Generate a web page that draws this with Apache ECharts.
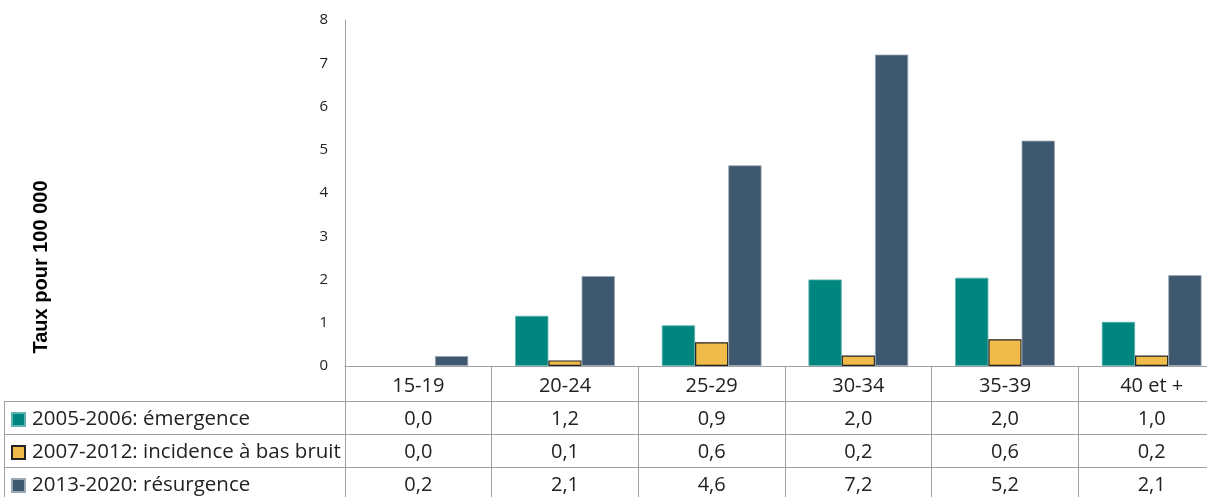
<!DOCTYPE html>
<html>
<head>
<meta charset="utf-8">
<style>
html,body{margin:0;padding:0;background:#fff;overflow:hidden;width:1207px;height:497px;}
#chart{width:1225px;height:497px;}
</style>
<script src="https://cdn.jsdelivr.net/npm/echarts@6/dist/echarts.min.js"></script>
</head>
<body>
<div id="chart"></div>
<script>
const categories = ['15-19', '20-24', '25-29', '30-34', '35-39', '40 et +'];
const seriesNames = ['2005-2006: émergence', '2007-2012: incidence à bas bruit', '2013-2020: résurgence'];
const emergence = [0, 1.16, 0.94, 2.0, 2.04, 1.02];
const basBruit = [0, 0.13, 0.55, 0.24, 0.62, 0.24];
const resurgence = [0.23, 2.08, 4.64, 7.2, 5.21, 2.1];
const yTicks = [0, 1, 2, 3, 4, 5, 6, 7, 8];
const yTitle = 'Taux pour 100 000';

const fmt = v => (Math.round(v * 10) / 10).toFixed(1).replace('.', ',');
const colors = ['#00857f', '#f0bb48', '#3e586f'];
const borders = ['#5fb3ae', '#222222', '#9aa8b5'];
const lineColor = '#a0a0a0';
const textColor = '#222';
const FONT = 'Open Sans';

const chart = echarts.init(document.getElementById('chart'));

const seriesData = [emergence, basBruit, resurgence];

const tableAxes = seriesData.map((arr, i) => ({
  type: 'category',
  gridIndex: 0,
  position: 'bottom',
  offset: 35 + 33 * i,
  data: arr.map(fmt),
  boundaryGap: true,
  axisLine: { show: true, lineStyle: { color: lineColor, width: 1 } },
  axisTick: { show: false },
  splitLine: { show: false },
  axisLabel: {
    show: true, interval: 0, margin: 18.5, verticalAlign: 'middle',
    fontFamily: FONT, fontSize: 20, color: textColor
  }
}));

const option = {
  animation: false,
  backgroundColor: '#fff',
  grid: { left: 345, top: 20, right: 0, height: 346, containLabel: false },
  legend: {
    orient: 'vertical',
    left: 11, top: 409, height: 150,
    padding: 0,
    itemWidth: 13, itemHeight: 13,
    itemGap: 12,
    icon: 'rect',
    data: seriesNames,
    selectedMode: false,
    textStyle: { fontFamily: FONT, fontSize: 20.5, color: textColor, padding: [0, 0, 0, 2] }
  },
  xAxis: [{
    type: 'category',
    data: categories,
    position: 'bottom',
    boundaryGap: true,
    axisLine: { show: true, lineStyle: { color: lineColor, width: 1 } },
    axisTick: { show: true, alignWithLabel: false, inside: false, length: 131, lineStyle: { color: lineColor, width: 1 } },
    splitLine: { show: false },
    axisLabel: {
      show: true, interval: 0, margin: 20, verticalAlign: 'middle',
      fontFamily: FONT, fontSize: 20, color: textColor
    }
  }].concat(tableAxes),
  yAxis: {
    type: 'value',
    min: yTicks[0], max: yTicks[yTicks.length - 1], interval: 1,
    axisLine: { show: true, lineStyle: { color: lineColor, width: 1 } },
    axisTick: { show: false },
    splitLine: { show: false },
    axisLabel: { margin: 17, fontFamily: FONT, fontSize: 15, color: textColor }
  },
  series: seriesData.map((arr, i) => ({
    name: seriesNames[i],
    type: 'bar',
    xAxisIndex: 0,
    barGap: '0%',
    barCategoryGap: '32%',
    itemStyle: { color: colors[i], borderColor: borders[i], borderWidth: i === 1 ? 1.2 : 0.8 },
    data: arr.map(v => v === 0 ? { value: 0, itemStyle: { borderWidth: 0 } } : v)
  })),
  graphic: [
    { type: 'line', shape: { x1: 4, y1: 401.5, x2: 345, y2: 401.5 }, style: { stroke: lineColor, lineWidth: 1 }, silent: true },
    { type: 'line', shape: { x1: 4, y1: 434.5, x2: 345, y2: 434.5 }, style: { stroke: lineColor, lineWidth: 1 }, silent: true },
    { type: 'line', shape: { x1: 4, y1: 467.5, x2: 345, y2: 467.5 }, style: { stroke: lineColor, lineWidth: 1 }, silent: true },
    { type: 'line', shape: { x1: 4.5, y1: 401, x2: 4.5, y2: 497 }, style: { stroke: lineColor, lineWidth: 1 }, silent: true },
    {
      type: 'text', x: 41, y: 267, rotation: Math.PI / 2, silent: true,
      style: {
        text: yTitle, fill: '#000',
        font: 'bold 20px "Liberation Sans", Arial, sans-serif',
        textAlign: 'center', textVerticalAlign: 'middle'
      }
    }
  ]
};
chart.setOption(option);
</script>
</body>
</html>
